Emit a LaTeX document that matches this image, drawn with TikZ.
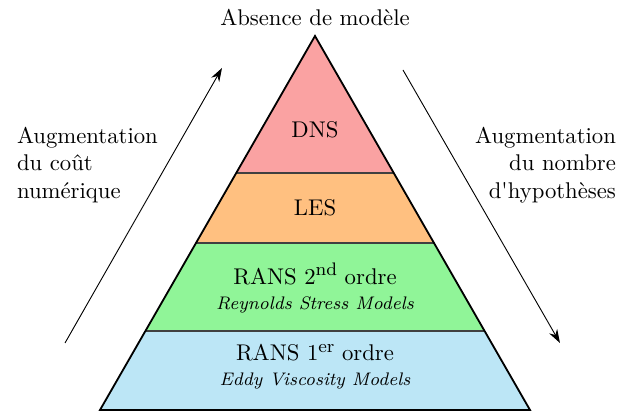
\documentclass[tikz,border=0pt]{standalone}
\usetikzlibrary{calc,arrows.meta}

\definecolor{dnscol}{RGB}{250,162,162}
\definecolor{lescol}{RGB}{255,192,128}
\definecolor{rsmcol}{RGB}{144,245,152}
\definecolor{evmcol}{RGB}{188,230,246}
\newcommand{\ordsup}[1]{\raisebox{0.85ex}{\footnotesize #1}}

\begin{document}
\begin{tikzpicture}[x=0.44pt,y=-0.44pt,
    sep/.style={draw=black!75,semithick},
    note/.style={font=\footnotesize\itshape},
    trend/.style={-{Stealth[length=6pt,width=4pt]}}]
            \useasboundingbox (0,0) rectangle (618,412);
            % pyramid corners and layer limits
            \coordinate (top) at (315,36);
            \coordinate (bl) at (100,410);
            \coordinate (br) at (530,410);
            \coordinate (l1) at ($(top)!0.3663!(bl)$);
            \coordinate (r1) at ($(top)!0.3663!(br)$);
            \coordinate (l2) at ($(top)!0.5535!(bl)$);
            \coordinate (r2) at ($(top)!0.5535!(br)$);
            \coordinate (l3) at ($(top)!0.7888!(bl)$);
            \coordinate (r3) at ($(top)!0.7888!(br)$);
            \fill[dnscol] (top) -- (r1) -- (l1) -- cycle;
            \fill[lescol] (l1) -- (r1) -- (r2) -- (l2) -- cycle;
            \fill[rsmcol] (l2) -- (r2) -- (r3) -- (l3) -- cycle;
            \fill[evmcol] (l3) -- (r3) -- (br) -- (bl) -- cycle;
            \draw[sep] (l1) -- (r1) (l2) -- (r2) (l3) -- (r3);
            \draw[thick,line join=miter] (top) -- (br) -- (bl) -- cycle;
            % labels
            \node (dns) at (315,130) {DNS};
            \node (les) at (315,208) {LES};
            \node[align=center] (rsm) at (315,288) {RANS 2\ordsup{nd} ordre\\[-1pt]{\footnotesize\itshape Reynolds Stress Models}};
            \node[align=center] (evm) at (315,367) {RANS 1\ordsup{er} ordre\\[-1pt]{\footnotesize\itshape Eddy Viscosity Models}};
            \node (none) at (315,17) {Absence de modèle};
            \node[align=left,anchor=west] (cost) at (9,165) {Augmentation\\du coût\\numérique};
            \node[align=right,anchor=east] (hyp) at (624,165) {Augmentation\\du nombre\\d\textquotesingle hypothèses};
            % trends
            \coordinate (c1) at (65,343);
            \coordinate (c2) at (222,68);
            \coordinate (h1) at (403,70);
            \coordinate (h2) at (560,343);
            \draw[trend] (c1) -- (c2);
            \draw[trend] (h1) -- (h2);
        \end{tikzpicture}
\end{document}
